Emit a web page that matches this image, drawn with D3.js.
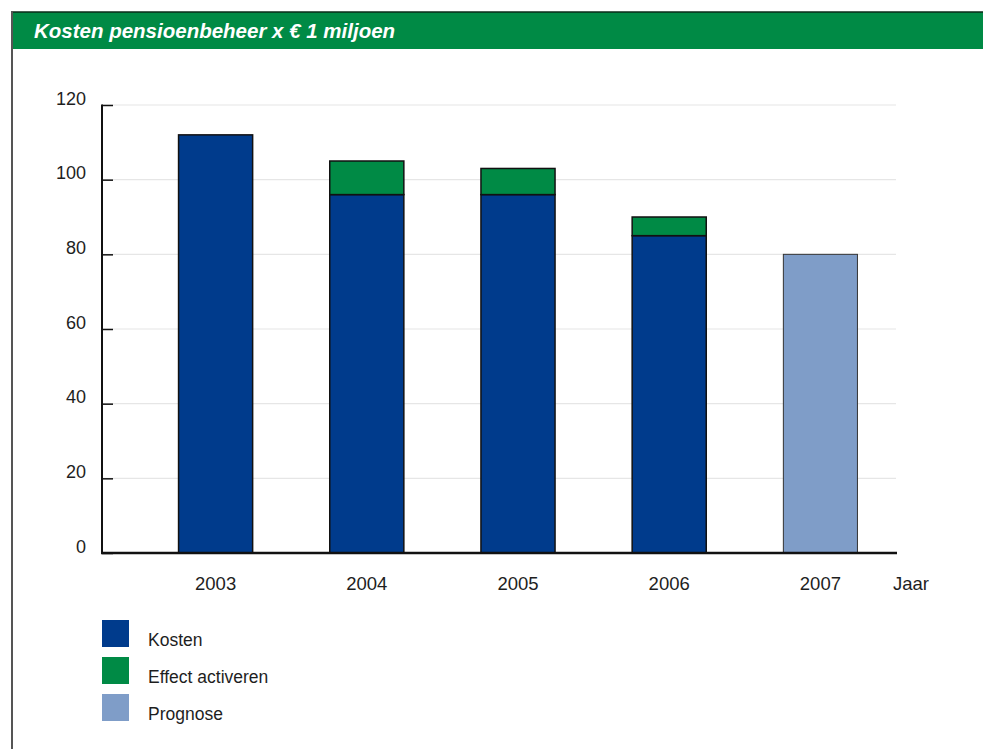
<!DOCTYPE html>
<html>
<head>
<meta charset="utf-8">
<script src="https://cdn.jsdelivr.net/npm/d3@7"></script>
<style>
  html, body { margin: 0; padding: 0; background: #fff; }
  svg { display: block; font-family: "Liberation Sans", Arial, sans-serif; }
</style>
</head>
<body>
<svg id="chart" width="983" height="749"></svg>
<script>
// Kosten pensioenbeheer, x € 1 miljoen
const years = ["2003", "2004", "2005", "2006", "2007"];
const kosten = [112, 96, 96, 85, null];
const effectActiveren = [null, 9, 7, 5, null];
const prognose = [null, null, null, null, 80];
const yTicks = [0, 20, 40, 60, 80, 100, 120];
const legendItems = ["Kosten", "Effect activeren", "Prognose"];
const title = "Kosten pensioenbeheer x € 1 miljoen";
const xAxisTitle = "Jaar";

const colors = {
  kosten: "#003b8c",
  effect: "#008a45",
  prognose: "#7f9dc8",
  header: "#008a45"
};

const svg = d3.select("#chart");

// frame: header band, top rule and left rule
svg.append("rect").attr("x", 11).attr("y", 12).attr("width", 972).attr("height", 37)
  .attr("fill", colors.header);
svg.append("line").attr("x1", 11).attr("x2", 983).attr("y1", 12).attr("y2", 12)
  .attr("stroke", "#0a2a18").attr("stroke-width", 1.5);
svg.append("line").attr("x1", 12).attr("x2", 12).attr("y1", 11).attr("y2", 749)
  .attr("stroke", "#555").attr("stroke-width", 2);

svg.append("text").attr("x", 34).attr("y", 37.5)
  .attr("fill", "#fff").attr("font-weight", "bold").attr("font-style", "italic")
  .attr("font-size", 20.5).text(title);

// scales
const y = d3.scaleLinear().domain([0, 120]).range([553, 105]);
const x = d3.scaleBand().domain(years).range([140, 896])
  .paddingInner(0.51).paddingOuter(0.255);

const plotLeft = 102, plotRight = 896;

// gridlines
svg.append("g").selectAll("line").data(yTicks.filter(d => d > 0)).join("line")
  .attr("x1", plotLeft).attr("x2", plotRight)
  .attr("y1", d => y(d)).attr("y2", d => y(d))
  .attr("stroke", "#e6e6e6").attr("stroke-width", 1.2);

// y axis with inward ticks
const yAxis = d3.axisRight(y).tickValues(yTicks).tickSize(11).tickFormat("");
const yg = svg.append("g").attr("transform", `translate(${plotLeft},0)`).call(yAxis);
yg.select(".domain").remove();
yg.selectAll(".tick line").attr("stroke", "#111").attr("stroke-width", 1.5);
svg.append("line").attr("x1", plotLeft).attr("x2", plotLeft)
  .attr("y1", y(120) - 0.5).attr("y2", y(0))
  .attr("stroke", "#111").attr("stroke-width", 2);

// y tick labels, sitting on their tick line
svg.append("g").selectAll("text").data(yTicks).join("text")
  .attr("x", 86).attr("y", d => y(d) - 0.5)
  .attr("text-anchor", "end").attr("font-size", 18).attr("fill", "#1e1e1e")
  .text(d => d);

// bars
const bw = x.bandwidth();
const bars = svg.append("g").attr("stroke", "#111").attr("stroke-width", 1.5);
bars.selectAll("rect.kosten").data(years.map((d, i) => ({ year: d, v: kosten[i] })).filter(d => d.v != null))
  .join("rect").attr("class", "kosten")
  .attr("x", d => x(d.year)).attr("width", bw)
  .attr("y", d => y(d.v)).attr("height", d => y(0) - y(d.v))
  .attr("fill", colors.kosten);
bars.selectAll("rect.effect").data(years.map((d, i) => ({ year: d, base: kosten[i], v: effectActiveren[i] })).filter(d => d.v != null))
  .join("rect").attr("class", "effect")
  .attr("x", d => x(d.year)).attr("width", bw)
  .attr("y", d => y(d.base + d.v)).attr("height", d => y(d.base) - y(d.base + d.v))
  .attr("fill", colors.effect);
bars.selectAll("rect.prognose").data(years.map((d, i) => ({ year: d, v: prognose[i] })).filter(d => d.v != null))
  .join("rect").attr("class", "prognose")
  .attr("x", d => x(d.year)).attr("width", bw)
  .attr("y", d => y(d.v)).attr("height", d => y(0) - y(d.v))
  .attr("fill", colors.prognose).attr("stroke", "#333").attr("stroke-width", 1);

// x axis baseline
svg.append("line").attr("x1", plotLeft - 1).attr("x2", plotRight + 1)
  .attr("y1", y(0)).attr("y2", y(0))
  .attr("stroke", "#111").attr("stroke-width", 2.5);

// x labels
svg.append("g").selectAll("text").data(years).join("text")
  .attr("x", d => x(d) + bw / 2).attr("y", 590)
  .attr("text-anchor", "middle").attr("font-size", 18.5).attr("fill", "#1e1e1e")
  .text(d => d);
svg.append("text").attr("x", 893).attr("y", 590)
  .attr("font-size", 18.5).attr("fill", "#1e1e1e").text(xAxisTitle);

// legend
const legendColors = [colors.kosten, colors.effect, colors.prognose];
const lg = svg.append("g").selectAll("g").data(legendItems).join("g")
  .attr("transform", (d, i) => `translate(102,${620 + i * 37})`);
lg.append("rect").attr("width", 27).attr("height", 27)
  .attr("fill", (d, i) => legendColors[i]);
lg.append("text").attr("x", 46).attr("y", 26)
  .attr("font-size", 17.5).attr("fill", "#1e1e1e").text(d => d);
</script>
</body>
</html>
